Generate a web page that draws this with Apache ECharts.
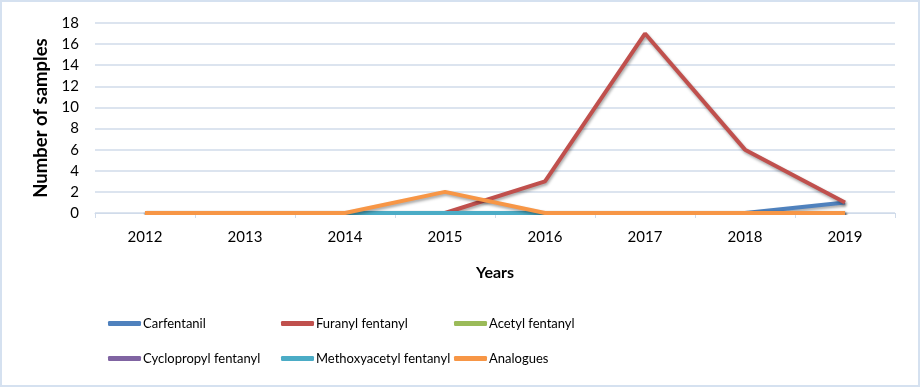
<!DOCTYPE html>
<html><head><meta charset="utf-8">
<script src="https://cdn.jsdelivr.net/npm/echarts@6/dist/echarts.min.js"></script>
<style>html,body{margin:0;padding:0;background:#fff}#c{width:920px;height:387px;box-sizing:border-box;border:2px solid #d5e1f0}</style>
</head><body><div id="c"></div>
<script>
const years = ['2012','2013','2014','2015','2016','2017','2018','2019'];
const seriesNames = ['Carfentanil','Furanyl fentanyl','Acetyl fentanyl','Cyclopropyl fentanyl','Methoxyacetyl fentanyl','Analogues'];
const carfentanil = [0,0,0,0,0,0,0,1];
const furanyl = [0,0,0,0,3,17,6,1];
const acetyl = [0,0,0,0,0,0,0,0];
const cyclopropyl = [0,0,0,0,0,0,0,0];
const methoxyacetyl = [0,0,0,0,0,0,0,0];
const analogues = [0,0,0,2,0,0,0,0];
const colors = ['#4f81bd','#c0504d','#9bbb59','#8064a2','#4bacc6','#f79646'];
const values = [carfentanil,furanyl,acetyl,cyclopropyl,methoxyacetyl,analogues];
const font = 'Lato, sans-serif';
const chart = echarts.init(document.getElementById('c'));
const legendPos = [[101,310],[274,310],[447,310],[101,345],[274,345],[447,345]];
chart.setOption({
  animation:false,
  textStyle:{fontFamily:font},
  grid:{left:93,right:23,top:21,bottom:172},
  xAxis:{type:'category',data:years,boundaryGap:true,
    name:'Years',nameLocation:'middle',nameGap:52,
    nameTextStyle:{fontWeight:'bold',fontSize:16,color:'#000',fontFamily:font},
    axisLine:{lineStyle:{color:'#d0dbea',width:1}},
    axisTick:{show:true,length:5,lineStyle:{color:'#d0dbea'}},
    axisLabel:{color:'#000',fontSize:15,margin:17}},
  yAxis:{type:'value',min:0,max:18,interval:2,
    name:'Number of samples',nameLocation:'middle',nameGap:44,
    nameTextStyle:{fontWeight:'bold',fontSize:18.5,color:'#000',fontFamily:font},
    axisLine:{show:false},axisTick:{show:false},
    axisLabel:{color:'#000',fontSize:15,margin:16},
    splitLine:{lineStyle:{color:'#d0dbea',width:1.5}}},
  legend: seriesNames.map((n,i)=>({data:[n],left:legendPos[i][0],top:legendPos[i][1],
    itemWidth:33,itemHeight:5,itemGap:0,icon:'roundRect',
    textStyle:{fontSize:13,color:'#000',fontFamily:font,padding:[0,0,0,-3]}})),
  series: seriesNames.map((n,i)=>({name:n,type:'line',data:values[i],symbol:'none',
    color:colors[i],
    lineStyle:{width:4,color:colors[i],shadowColor:'rgba(0,0,0,0.35)',shadowBlur:3,shadowOffsetX:1,shadowOffsetY:2}}))
});
</script></body></html>
